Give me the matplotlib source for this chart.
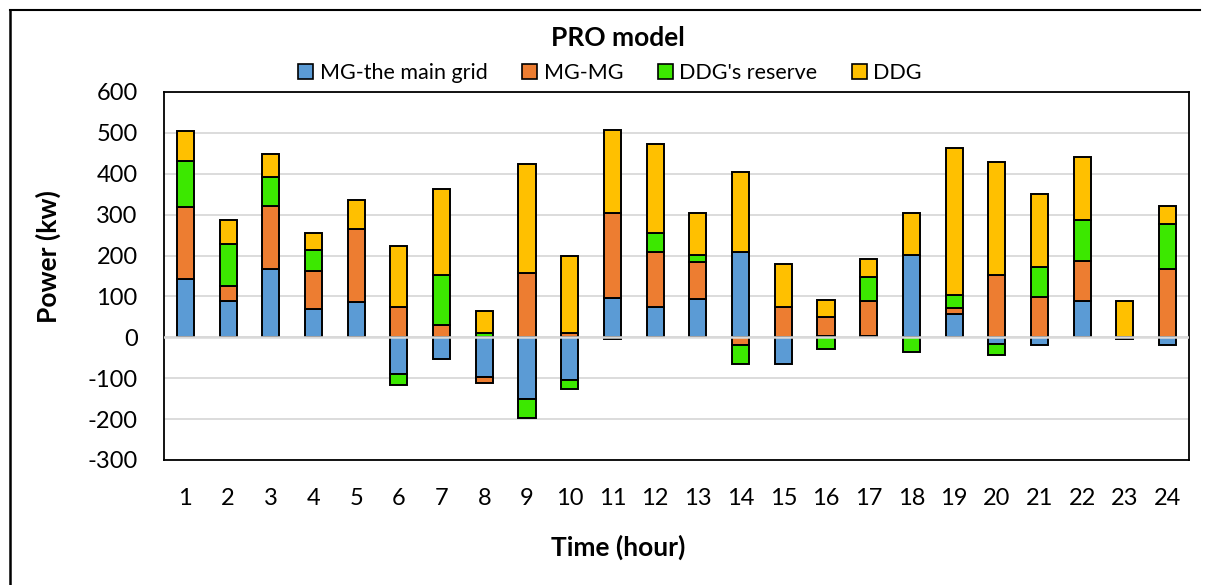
#!/usr/bin/env python3
"""
PRO model: stacked power exchange per hour (positive and negative parts stacked apart).
"""

import numpy as np
import matplotlib
matplotlib.use("Agg")
import matplotlib.pyplot as plt
from matplotlib.patches import Patch
from matplotlib.lines import Line2D

plt.rcParams['font.family'] = ['Lato', 'DejaVu Sans']

# Data (kW)
hours = list(range(1, 25))
series_names = ["MG-the main grid", "MG-MG", "DDG's reserve", "DDG"]
mg_grid = [143, 89, 166, 69, 87, -89, -53, -96, -152, -104, 97, 73,
           94, 208, -64, 4, 3, 202, 58, -17, -19, 89, -5, -19]
mg_mg = [176, 36, 156, 93, 177, 73, 30, -15, 157, 11, 207, 135,
         91, -19, 73, 46, 86, 0, 13, 153, 99, 98, 0, 168]
ddg_reserve = [112, 104, 71, 52, 0, -28, 122, 11, -46, -22, -5, 48,
               16, -45, 0, -29, 59, -37, 33, -26, 74, 100, 0, 110]
ddg = [74, 59, 55, 40, 72, 150, 211, 53, 266, 189, 204, 216,
       103, 197, 107, 42, 44, 102, 358, 277, 178, 153, 90, 42]
y_ticks = [-300, -200, -100, 0, 100, 200, 300, 400, 500, 600]

COLORS = ["#5B9BD5", "#ED7D31", "#3CE800", "#FFC000"]
BAR_WIDTH = 0.4

fig = plt.figure(figsize=(12.11, 5.85), dpi=100)
# plot area in pixels: x 164..1189, y 92..460
W, H = 1211, 585
ax = fig.add_axes([164 / W, 1 - 460 / H, (1189 - 164) / W, (460 - 92) / H])

x = np.array(hours)
pos_base = np.zeros(len(hours))
neg_base = np.zeros(len(hours))
for vals, color in zip([mg_grid, mg_mg, ddg_reserve, ddg], COLORS):
    v = np.array(vals, dtype=float)
    bottoms = np.where(v >= 0, pos_base, neg_base)
    keep = v != 0
    ax.bar(x[keep], v[keep], bottom=bottoms[keep], width=BAR_WIDTH,
           color=color, edgecolor="black", linewidth=1.4, zorder=3)
    pos_base += np.clip(v, 0, None)
    neg_base += np.clip(v, None, 0)

ax.set_xlim(0.5, 24.5)
ax.set_ylim(-300, 600)
ax.set_yticks(y_ticks)
ax.set_yticklabels([str(t) for t in y_ticks])
ax.set_xticks(hours)
ax.set_xticklabels([str(h) for h in hours])
ax.tick_params(axis="both", length=0, labelsize=17, colors="black")
ax.tick_params(axis="y", pad=19)
ax.tick_params(axis="x", pad=20)

ax.yaxis.grid(True, color="#D9D9D9", linewidth=1.3, zorder=0)
ax.set_axisbelow(True)
ax.axhline(0, color="#D9D9D9", linewidth=1.8, zorder=4)
for sp in ax.spines.values():
    sp.set_color("black")
    sp.set_linewidth(1.3)

fig.text(618 / W, 1 - 38 / H, "PRO model", ha="center", va="center",
         fontsize=19, fontweight="bold")
fig.text(618 / W, 1 - 547 / H, "Time (hour)", ha="center", va="center",
         fontsize=19, fontweight="bold")
fig.text(48 / W, 1 - 257 / H, "Power (kw)", ha="center", va="center",
         rotation=90, fontsize=19, fontweight="bold")

handles = [Patch(facecolor=c, edgecolor="black", linewidth=1.2) for c in COLORS]
fig.legend(handles, series_names, loc="center", bbox_to_anchor=(610 / W, 1 - 73 / H),
           ncol=4, frameon=False, fontsize=15.5, handlelength=0.7, handleheight=0.7,
           handletextpad=0.3, columnspacing=1.6, borderpad=0)

# outer chart border (top and left only, the rest is cropped)
fig.add_artist(Line2D([10 / W, 1200 / W], [1 - 10 / H, 1 - 10 / H],
                      transform=fig.transFigure, color="black", linewidth=1.5))
fig.add_artist(Line2D([10 / W, 10 / W], [1 - 10 / H, 0],
                      transform=fig.transFigure, color="black", linewidth=1.8))

fig.savefig("out.png", dpi=100)
